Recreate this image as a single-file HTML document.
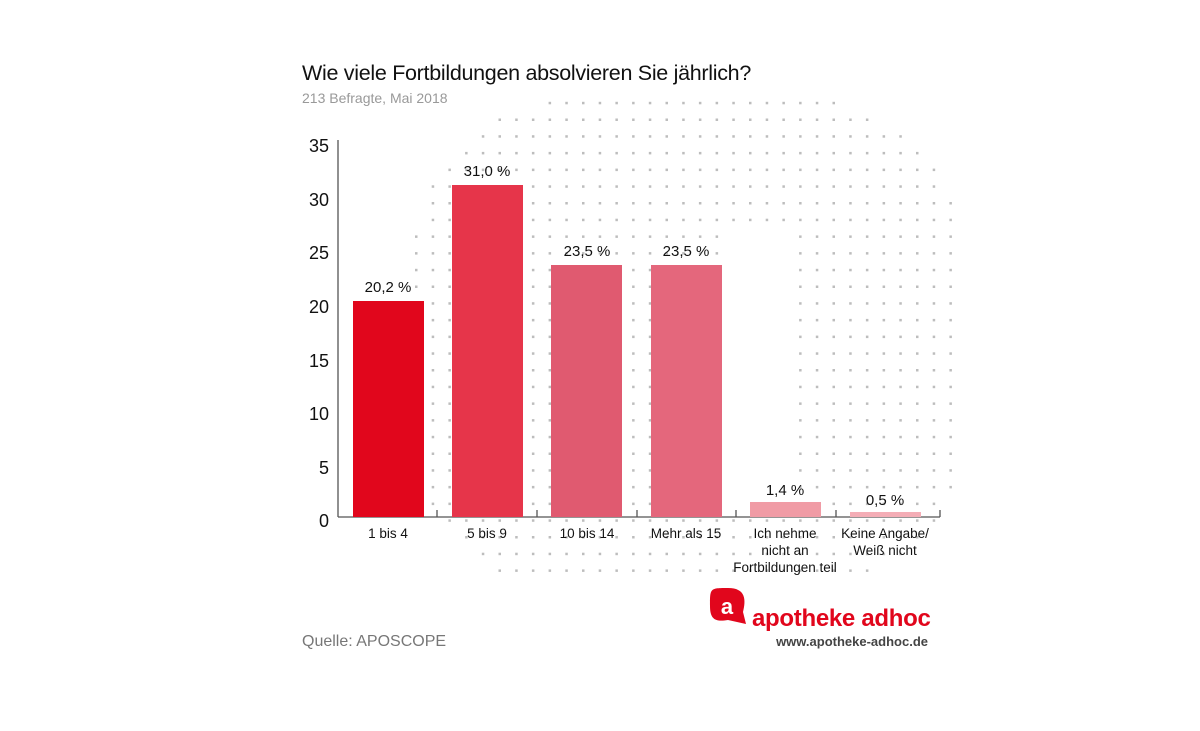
<!DOCTYPE html>
<html><head><meta charset="utf-8"><style>
body{margin:0;background:#fff;width:1200px;height:726px;overflow:hidden;font-family:"Liberation Sans",sans-serif}
</style></head><body>
<svg id="s" width="1200" height="726" xmlns="http://www.w3.org/2000/svg" font-family="Liberation Sans, sans-serif">
<g id="dots" fill="#bdbdbd"></g>
<text x="302" y="80" font-size="21.5" fill="#111" letter-spacing="-0.3">Wie viele Fortbildungen absolvieren Sie jährlich?</text>
<text x="302" y="103" font-size="14" fill="#999">213 Befragte, Mai 2018</text>
<g font-size="18" fill="#111" text-anchor="end">
<text x="329" y="152">35</text><text x="329" y="206">30</text><text x="329" y="259">25</text>
<text x="329" y="313">20</text><text x="329" y="367">15</text><text x="329" y="420">10</text>
<text x="329" y="474">5</text><text x="329" y="527">0</text>
</g>
<g stroke="#555" stroke-width="1.3">
<line x1="338" y1="140" x2="338" y2="517"/>
<line x1="338" y1="517" x2="940" y2="517"/>
<line x1="437" y1="510" x2="437" y2="517"/><line x1="537" y1="510" x2="537" y2="517"/>
<line x1="637" y1="510" x2="637" y2="517"/><line x1="736" y1="510" x2="736" y2="517"/>
<line x1="836" y1="510" x2="836" y2="517"/><line x1="940" y1="510" x2="940" y2="517"/>
</g>
<rect x="353" y="301" width="71" height="216" fill="#e1061c"/>
<rect x="452" y="185" width="71" height="332" fill="#e6354a"/>
<rect x="551" y="265" width="71" height="252" fill="#e05a70"/>
<rect x="651" y="265" width="71" height="252" fill="#e4677c"/>
<rect x="750" y="502" width="71" height="15" fill="#f09ba5"/>
<rect x="850" y="512" width="71" height="5" fill="#f4adb6"/>
<g font-size="15" fill="#111" text-anchor="middle">
<text x="388" y="292">20,2 %</text><text x="487" y="176">31,0 %</text>
<text x="587" y="256">23,5 %</text><text x="686" y="256">23,5 %</text>
<text x="785" y="495">1,4 %</text><text x="885" y="505">0,5 %</text>
</g>
<g font-size="13.5" fill="#111" text-anchor="middle">
<text x="388" y="538">1 bis 4</text><text x="487" y="538">5 bis 9</text>
<text x="587" y="538">10 bis 14</text><text x="686" y="538">Mehr als 15</text>
<text x="785" y="538">Ich nehme</text><text x="785" y="555">nicht an</text><text x="785" y="572">Fortbildungen teil</text>
<text x="885" y="538">Keine Angabe/</text><text x="885" y="555">Weiß nicht</text>
</g>
<text x="302" y="646" font-size="16" fill="#777">Quelle: APOSCOPE</text>
<path d="M728 588 C710 588 710 588 710 606 C710 620 716 622 728 620 L746 624 L743 612 C746 600 746 588 728 588 Z" fill="#e1061c"/>
<text x="727" y="614" font-size="22" font-weight="bold" fill="#fff" text-anchor="middle">a</text>
<text x="752" y="626" font-size="24" font-weight="bold" fill="#e1061c" letter-spacing="-0.3">apotheke adhoc</text>
<text x="928" y="646" font-size="13" font-weight="bold" fill="#444" text-anchor="end">www.apotheke-adhoc.de</text>
</svg>
<script>
var g=document.getElementById('dots'),h='';
for(var j=0;j<29;j++){var y=103+16.7*j;if(y>572)break;
for(var i=-17;i<19;i++){var x=650+16.7*i;
if(x<395||x>955)continue;
var dx=(x-690)/280,dy=(y-345)/250;
if(Math.pow(Math.abs(dx),3)+Math.pow(Math.abs(dy),3)>1.05)continue;
if(x>720&&x<792&&y>226&&y<512)continue;
h+='<rect x="'+(x-1.2).toFixed(1)+'" y="'+(y-1.2).toFixed(1)+'" width="2.5" height="2.5"/>';}}
g.innerHTML=h;
</script>
</body></html>
